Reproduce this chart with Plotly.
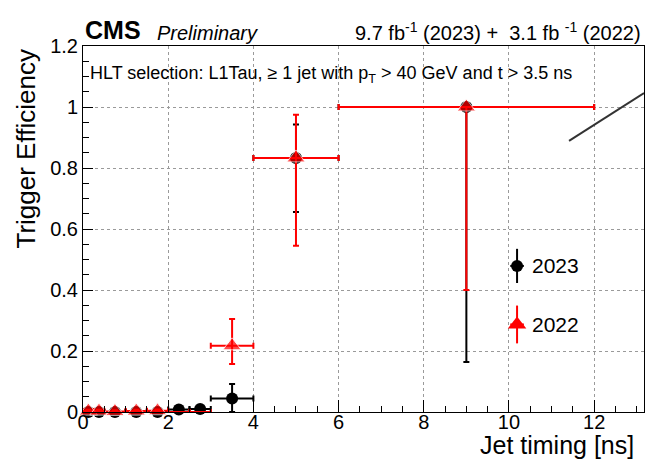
import plotly.graph_objects as go

# ---- data ----
bin_centers = [0.125, 0.375, 0.75, 1.25, 1.75, 2.25, 2.75, 3.5, 5.0, 9.0]
bin_half_widths = [0.125, 0.125, 0.25, 0.25, 0.25, 0.25, 0.25, 0.5, 1.0, 3.0]

eff_2023 = [0.0, 0.0, 0.0, 0.0, 0.0, 0.008, 0.01, 0.044, 0.833, 1.0]
err_up_2023 = [0.004, 0.004, 0.004, 0.004, 0.004, 0.006, 0.006, 0.048, 0.11, 0.0]
err_dn_2023 = [0.0, 0.0, 0.0, 0.0, 0.0, 0.006, 0.006, 0.044, 0.177, 0.836]

eff_2022 = [0.003, 0.003, 0.002, 0.003, 0.004, 0.0, 0.0, 0.217, 0.833, 1.0]
err_up_2022 = [0.004, 0.004, 0.004, 0.004, 0.004, 0.0, 0.0, 0.088, 0.142, 0.0]
err_dn_2022 = [0.003, 0.003, 0.002, 0.003, 0.004, 0.0, 0.0, 0.06, 0.288, 0.6]

series_names = ["2023", "2022"]
x_ticks = [0, 2, 4, 6, 8, 10, 12]
y_ticks = [0, 0.2, 0.4, 0.6, 0.8, 1.0, 1.2]

# legend symbol positions (layout, data units)
legend_x = [10.19, 10.19]
legend_y = [0.479, 0.287]

# stray diagonal line in the original canvas
diag_x = [11.41, 13.17]
diag_y = [0.889, 1.046]

FONT = "Liberation Sans, Arial, Helvetica, sans-serif"

# red marker sizes (hide markers on empty 2022 bins)
red_sizes = [16 if v > 0 else 0 for v in eff_2022]

fig = go.Figure()

fig.add_trace(go.Scatter(
    x=bin_centers, y=eff_2023, mode="markers", name=series_names[0],
    marker=dict(symbol="circle", size=12, color="black"),
    error_x=dict(type="data", array=bin_half_widths, color="black", thickness=2, width=3),
    error_y=dict(type="data", array=err_up_2023, arrayminus=err_dn_2023, symmetric=False,
                 color="black", thickness=2, width=3),
    showlegend=False, cliponaxis=False,
))

fig.add_trace(go.Scatter(
    x=bin_centers, y=eff_2022, mode="markers", name=series_names[1],
    marker=dict(symbol="triangle-up", size=red_sizes, color="#ff0000"),
    error_x=dict(type="data", array=bin_half_widths, color="#ff0000", thickness=2, width=3),
    error_y=dict(type="data", array=err_up_2022, arrayminus=err_dn_2022, symmetric=False,
                 color="#ff0000", thickness=2, width=3),
    showlegend=False, cliponaxis=False,
))

# legend symbols
fig.add_trace(go.Scatter(
    x=[legend_x[0]], y=[legend_y[0]], mode="markers",
    marker=dict(symbol="circle", size=12, color="black"),
    error_x=dict(type="constant", value=0.16, color="black", thickness=2, width=0),
    error_y=dict(type="constant", value=0.056, color="black", thickness=2, width=0),
    showlegend=False, cliponaxis=False,
))
fig.add_trace(go.Scatter(
    x=[legend_x[1]], y=[legend_y[1]], mode="markers",
    marker=dict(symbol="triangle-up", size=16, color="#ff0000"),
    error_x=dict(type="constant", value=0.16, color="#ff0000", thickness=2, width=0),
    error_y=dict(type="constant", value=0.062, color="#ff0000", thickness=2, width=0),
    showlegend=False, cliponaxis=False,
))

fig.add_shape(type="line", xref="x", yref="y",
              x0=diag_x[0], y0=diag_y[0], x1=diag_x[1], y1=diag_y[1],
              line=dict(color="#333333", width=2))

axis_common = dict(
    showline=True, linecolor="black", linewidth=1, mirror=True,
    showgrid=True, gridcolor="#9a9a9a", griddash="dot", gridwidth=1,
    zeroline=False, ticks="inside", tickcolor="black",
    tickfont=dict(family=FONT, size=20, color="black"),
)

fig.update_xaxes(range=[0, 13.17], tickvals=x_ticks, ticklen=12, ticklabelstandoff=-8,
                 minor=dict(dtick=0.5, ticks="inside", ticklen=6, tickcolor="black", showgrid=False),
                 **axis_common)
fig.update_yaxes(range=[0, 1.2], tickvals=y_ticks, ticktext=["0", "0.2", "0.4", "0.6", "0.8", "1", "1.2"],
                 ticklen=10,
                 minor=dict(dtick=0.05, ticks="inside", ticklen=6, tickcolor="black", showgrid=False),
                 **axis_common)

ann = []
ann.append(dict(text="<b>CMS</b>", xref="paper", yref="paper", x=0.0, y=1.0,
                xanchor="left", yanchor="bottom", showarrow=False,
                font=dict(family=FONT, size=25, color="black")))
ann.append(dict(text="<i>Preliminary</i>", xref="paper", yref="paper", x=0.128, y=1.0,
                xanchor="left", yanchor="bottom", showarrow=False,
                font=dict(family=FONT, size=20, color="black")))
ann.append(dict(text="9.7 fb<sup>-1</sup> (2023) +\u00a0\u00a03.1 fb\u00a0<sup>-1</sup> (2022)",
                xref="paper", yref="paper", x=0.998, y=1.0,
                xanchor="right", yanchor="bottom", showarrow=False,
                font=dict(family=FONT, size=20, color="black")))
ann.append(dict(text="HLT selection: L1Tau, \u2265 1 jet with p<sub>T</sub> > 40 GeV and t > 3.5 ns",
                xref="paper", yref="paper", x=0.009, y=0.923,
                xanchor="left", yanchor="middle", showarrow=False,
                font=dict(family=FONT, size=18, color="black")))
ann.append(dict(text="Trigger Efficiency", xref="paper", yref="paper", x=-0.1016, y=0.9945,
                xanchor="center", yanchor="top", textangle=-90, showarrow=False,
                font=dict(family=FONT, size=26, color="black")))
ann.append(dict(text="Jet timing [ns]", xref="paper", yref="paper", x=0.9857, y=-0.091,
                xanchor="right", yanchor="middle", showarrow=False,
                font=dict(family=FONT, size=25, color="black")))
ann.append(dict(text=series_names[0], xref="paper", yref="paper", x=0.797, y=0.399,
                xanchor="left", yanchor="middle", showarrow=False,
                font=dict(family=FONT, size=21, color="black")))
ann.append(dict(text=series_names[1], xref="paper", yref="paper", x=0.797, y=0.238,
                xanchor="left", yanchor="middle", showarrow=False,
                font=dict(family=FONT, size=21, color="black")))

fig.update_layout(
    width=646, height=460,
    margin=dict(l=83, r=2, t=46, b=48),
    paper_bgcolor="white", plot_bgcolor="white",
    annotations=ann,
    font=dict(family=FONT, color="black"),
)

fig.write_html("out.html")
